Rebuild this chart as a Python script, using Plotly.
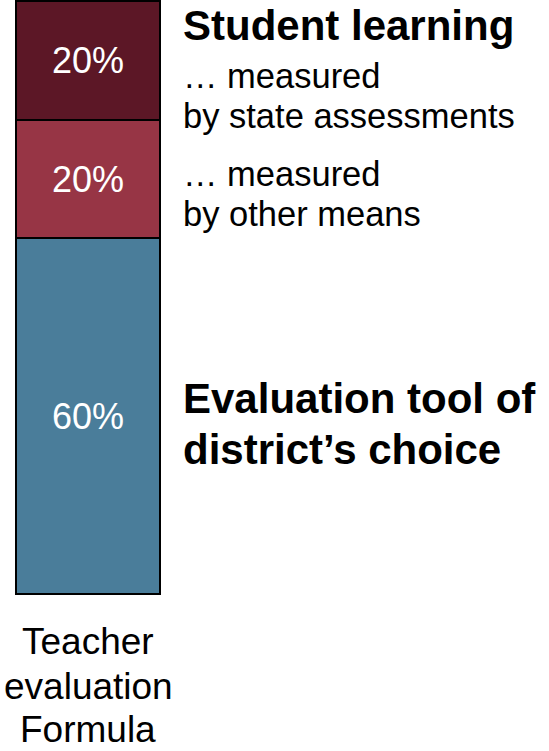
import plotly.graph_objects as go

W, H = 549, 751

# Data
category = ["Teacher evaluation Formula"]
segments = ["Evaluation tool of district's choice",
            "Student learning measured by other means",
            "Student learning measured by state assessments"]
values = [60, 20, 20]
labels = ["60%", "20%", "20%"]
colors = ["#4A7D9A", "#973545", "#5C1726"]

# pixel geometry of the bar
bar_left, bar_right = 16, 160
bar_top, bar_bottom = 1, 594
px_per_x = bar_right - bar_left
px_per_y = (bar_bottom - bar_top) / 100.0

x_range = [-0.5 - bar_left / px_per_x, 0.5 + (W - bar_right) / px_per_x]
y_range = [-(H - bar_bottom) / px_per_y, 100 + bar_top / px_per_y]

fig = go.Figure()
for v, lab, c, name in zip(values, labels, colors, segments):
    fig.add_trace(go.Bar(
        x=[0], y=[v], width=1, name=name,
        marker=dict(color=c, line=dict(color="#000000", width=2)),
        text=[lab], textposition="inside", insidetextanchor="middle",
        textangle=0, textfont=dict(color="white", size=36, family="Liberation Sans, Arial"),
        hoverinfo="skip",
    ))

def py(p):
    return 1 - p / H

FONT = "Liberation Sans, Arial, sans-serif"
annos = []
def add(text, x, baseline, size, bold=False, anchor="left"):
    t = f"<b>{text}</b>" if bold else text
    annos.append(dict(text=t, x=x / W, y=py(baseline + 2 - 0.33 * size), xref="paper", yref="paper",
                      xanchor=anchor, yanchor="middle", showarrow=False,
                      font=dict(size=size, color="black", family=FONT)))

add("Student learning", 181, 37, 42, bold=True)
add("… measured", 181, 85, 34.5)
add("by state assessments", 181, 125, 34.5)
add("… measured", 181, 183, 34.5)
add("by other means", 181, 223, 34.5)
add("Evaluation tool of", 181, 410, 42, bold=True)
add("district’s choice", 181, 461, 42, bold=True)
add("Teacher", 88, 652, 37, anchor="center")
add("evaluation", 88, 697, 37, anchor="center")
add("Formula", 88, 740, 37, anchor="center")

fig.update_layout(
    width=W, height=H, barmode="stack", showlegend=False,
    margin=dict(l=0, r=0, t=0, b=0),
    paper_bgcolor="white", plot_bgcolor="white",
    xaxis=dict(range=x_range, visible=False, fixedrange=True),
    yaxis=dict(range=y_range, visible=False, fixedrange=True),
    annotations=annos, bargap=0,
)
fig.write_html("out.html", config={"displayModeBar": False},
               post_script="document.body.style.margin='0';document.body.style.overflow='hidden';")
